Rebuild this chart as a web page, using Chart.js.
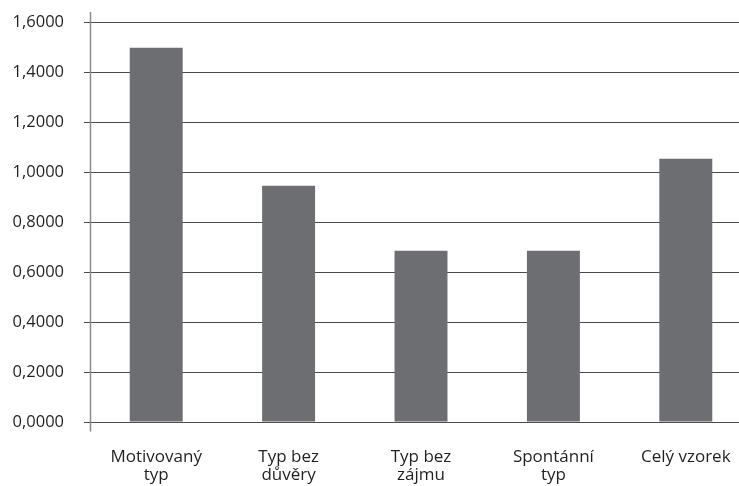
<!DOCTYPE html>
<html><head><meta charset="utf-8">
<script src="https://cdn.jsdelivr.net/npm/chart.js@4/dist/chart.umd.min.js"></script>
<style>
html,body{margin:0;padding:0;background:#fff;overflow:hidden;width:739px;height:486px;}
#wrap{width:752px;height:486px;position:relative;}
</style></head>
<body><div id="wrap"><canvas id="c" width="752" height="486"></canvas></div>
<script>
const categories = [["Motivovaný","typ"],["Typ bez","důvěry"],["Typ bez","zájmu"],["Spontánní","typ"],["Celý vzorek"]];
const values = [1.497, 0.945, 0.685, 0.685, 1.053];
const yTickValues = [0,0.2,0.4,0.6,0.8,1.0,1.2,1.4,1.6];

const axisLine = {
  id:'axisLine',
  afterDraw(chart){
    const ctx = chart.ctx, a = chart.chartArea;
    ctx.save();
    ctx.strokeStyle = '#8a8a8a';
    ctx.lineWidth = 1.5;
    ctx.beginPath();
    ctx.moveTo(a.left+0.5, a.top-10);
    ctx.lineTo(a.left+0.5, a.bottom+9.5);
    ctx.stroke();
    ctx.restore();
  }
};

new Chart(document.getElementById('c'), {
  type:'bar',
  data:{labels:categories, datasets:[{data:values, backgroundColor:'#6d6e71', barPercentage:0.4, categoryPercentage:1.0}]},
  options:{
    responsive:false, animation:false,
    layout:{padding:{top:22, right:0, left:0, bottom:0}},
    plugins:{legend:{display:false}, tooltip:{enabled:false}},
    scales:{
      x:{
        grid:{display:false}, border:{display:false},
        ticks:{color:'#231f20', font:{family:'Open Sans', size:17, lineHeight:1.08}, padding:18, maxRotation:0, autoSkip:false},
        afterFit(s){ s.height = 64; s.paddingLeft = 0; s.paddingRight = 0; }
      },
      y:{
        min:0, max:1.6,
        afterBuildTicks(s){ s.ticks = yTickValues.map(v=>({value:v})); },
        grid:{color:'#4a4a4a', lineWidth:1, tickLength:6, drawTicks:true},
        border:{display:false},
        ticks:{color:'#231f20', font:{family:'Open Sans', size:16.5}, padding:20,
          callback:(v)=>v.toFixed(4).replace('.',',')},
        afterFit(s){ s.width = 90; s.paddingTop = 0; s.paddingBottom = 0; }
      }
    }
  },
  plugins:[axisLine]
});
</script></body></html>
